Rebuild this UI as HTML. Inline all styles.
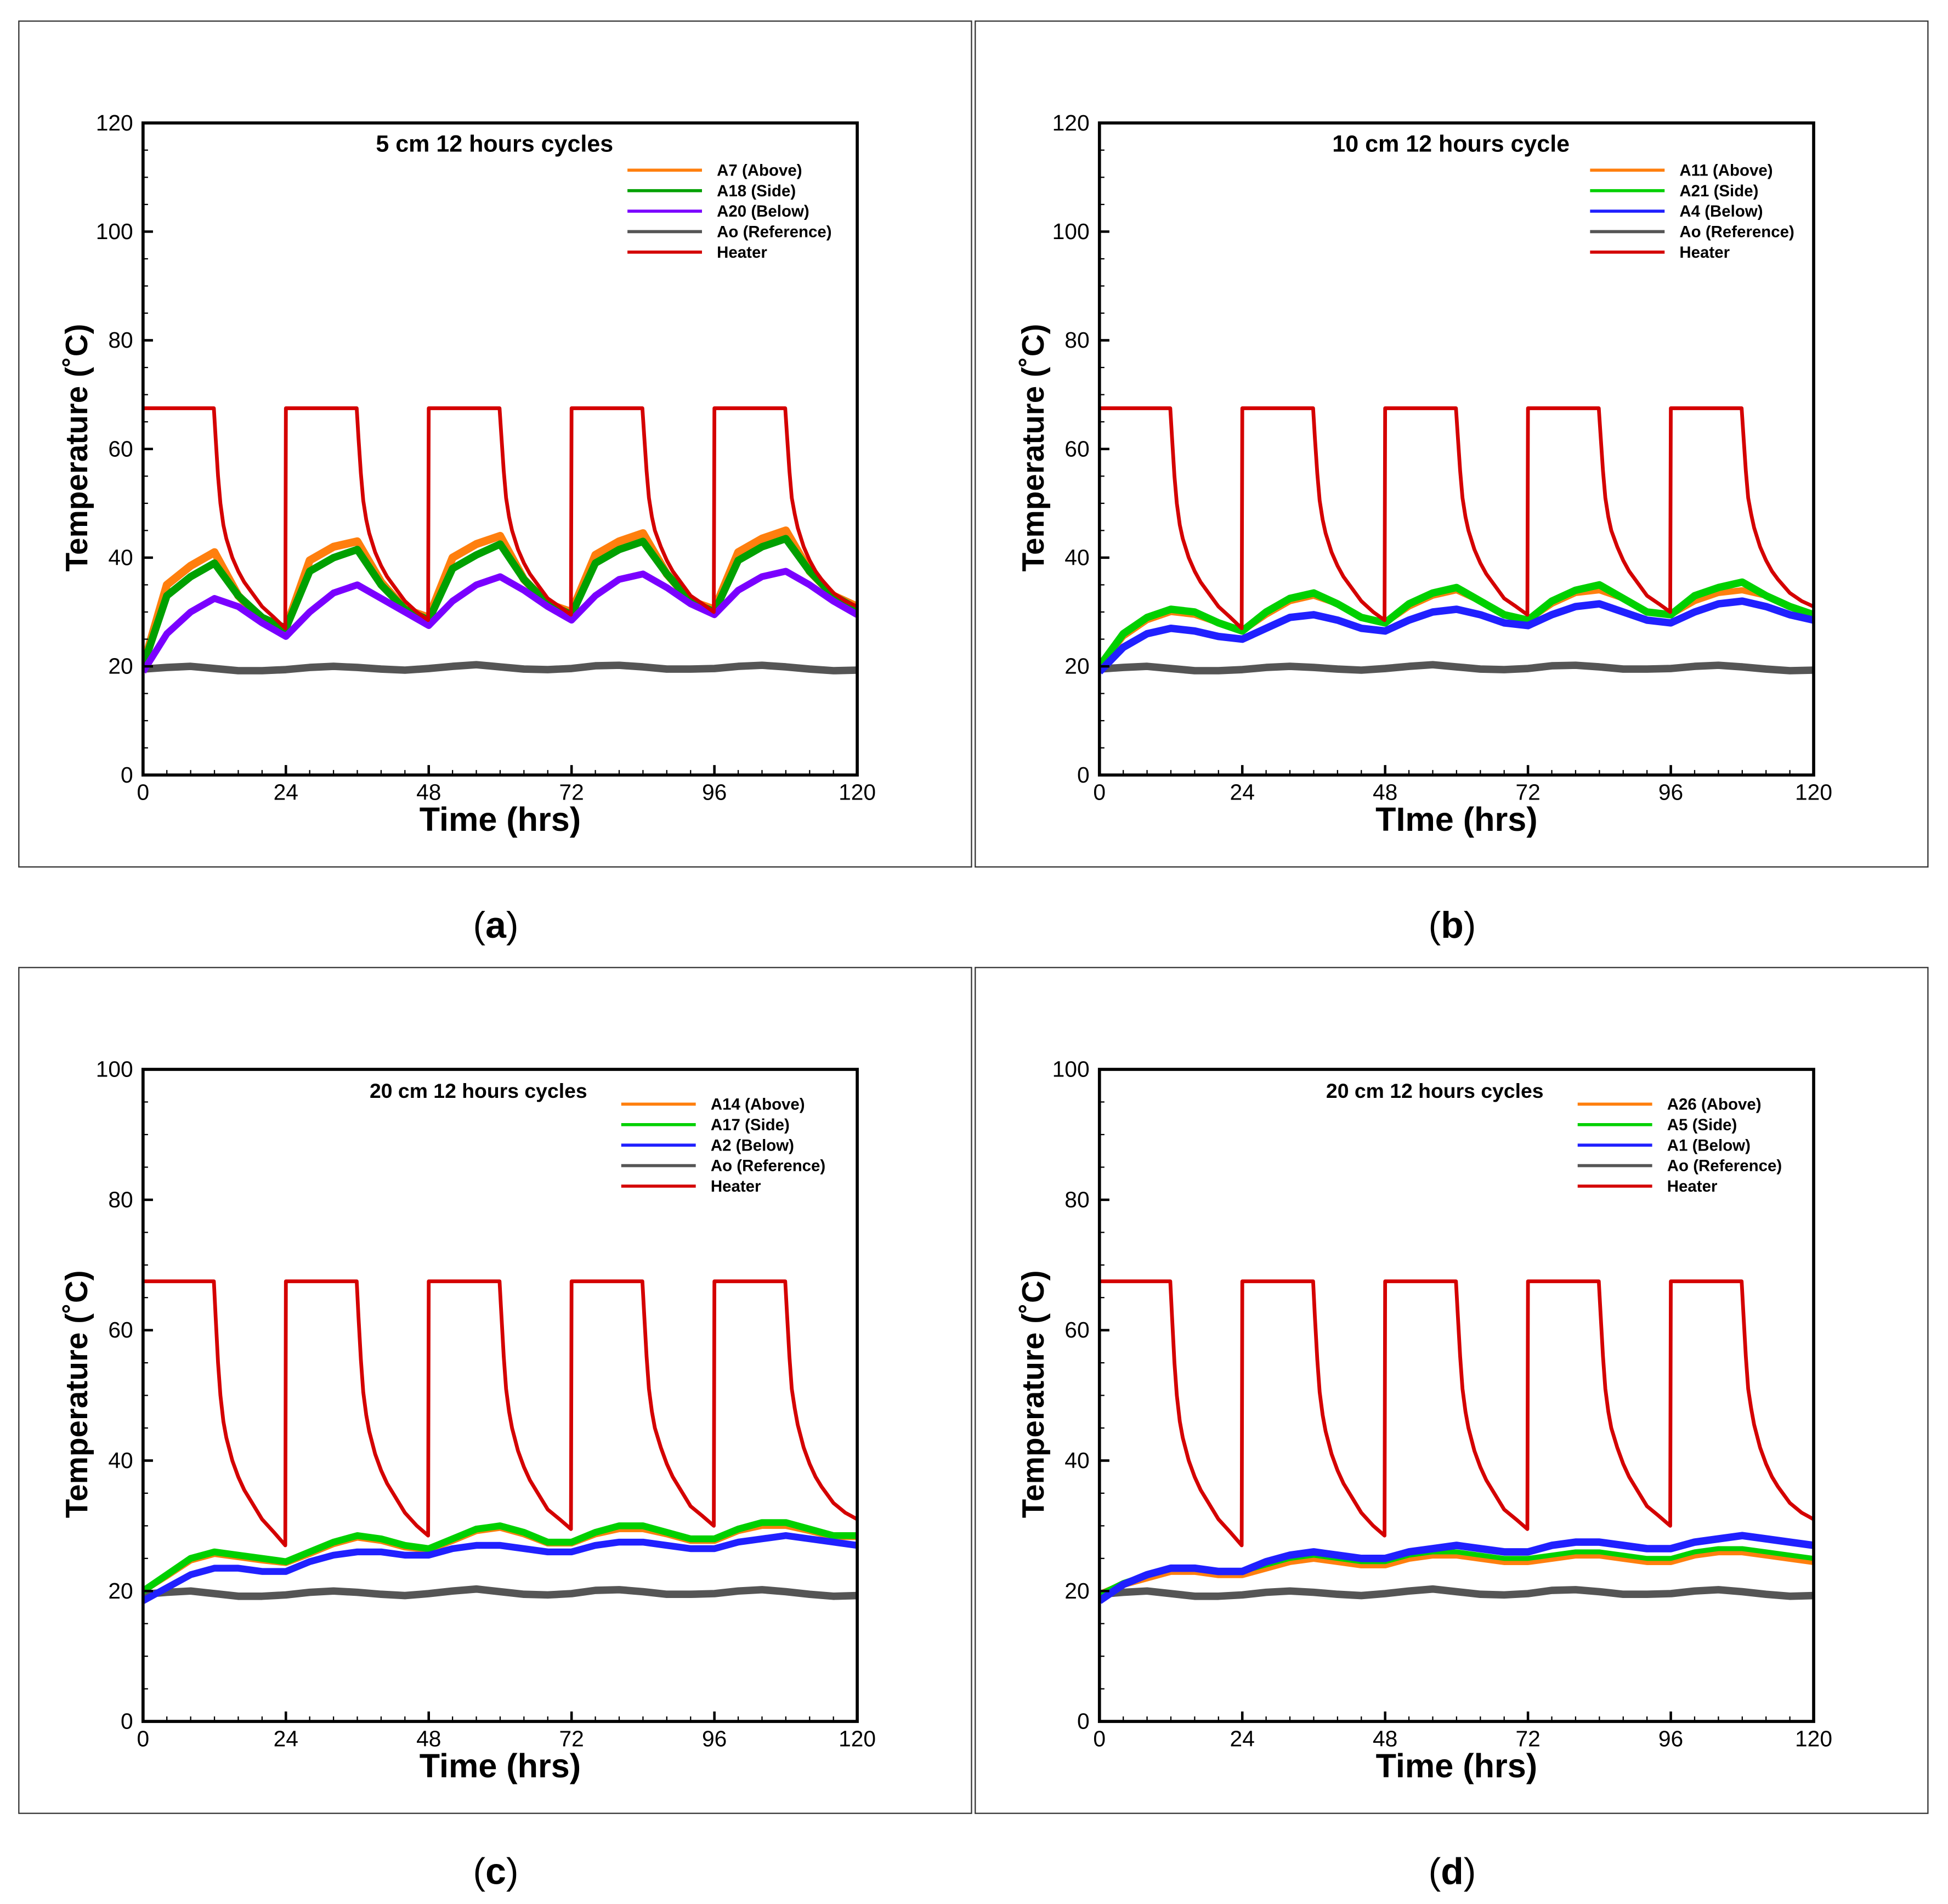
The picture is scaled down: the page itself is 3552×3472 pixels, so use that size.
<!DOCTYPE html>
<html><head><meta charset="utf-8"><style>
html,body{margin:0;padding:0;background:#fff}
svg{display:block}
text{font-family:"Liberation Sans",sans-serif}
</style></head><body>
<svg id="fig" width="3552" height="3472" viewBox="0 0 1568 1533" xmlns="http://www.w3.org/2000/svg"></svg>
<script>
const timeCats=[0,4,8,12,16,20,24,28,32,36,40,44,48,52,56,60,64,68,72,76,80,84,88,92,96,100,104,108,112,116,120];
const heaterT=[0,11.9,12.2,12.6,13,13.5,14,15,16,17,18,20,22,23.9,
24,35.9,36.2,36.6,37,37.5,38,39,40,41,42,44,46,47.9,
48,59.9,60.2,60.6,61,61.5,62,63,64,65,66,68,70,71.9,
72,83.9,84.2,84.6,85,85.5,86,87,88,89,90,92,94,95.9,
96,107.9,108.2,108.6,109,109.5,110,111,112,113,114,116,118,120];
const heaterV=[67.5,67.5,62,55,50,46,43.5,40,37.5,35.5,34,31,29,27,
67.5,67.5,62,55.5,50.5,47,44.5,41,38.5,36.5,35,32,30,28.5,
67.5,67.5,62.5,56,51,47.5,45,41.5,39,37,35.5,32.5,31,29.5,
67.5,67.5,62.5,56,51,47.5,45,42,39.5,37.5,36,33,31.5,30,
67.5,67.5,62.5,56,51,48,45.5,42,39.5,37.5,36,33.5,32,31];
const refV=[19.5,19.8,20,19.6,19.2,19.2,19.4,19.8,20,19.8,19.5,19.3,19.6,20,20.3,19.9,19.5,19.4,19.6,20.1,20.2,19.9,19.5,19.5,19.6,20,20.2,19.9,19.5,19.2,19.3];
const aAbove=[20,35,38.5,41,33,28.5,27,39.5,42,43,35.5,30.5,29,40,42.5,44,36,31.5,30,40.5,43,44.5,37,32,30.5,41,43.5,45,37.5,33,31];
const aSide=[20,33,36.5,39,33,29,27,37.5,40,41.5,35,30.5,28.5,38,40.5,42.5,36,31.5,29.5,39,41.5,43,37,32,30,39.5,42,43.5,37.5,33,30.5];
const aBelow=[19,26,30,32.5,31,28,25.5,30,33.5,35,32.5,30,27.5,32,35,36.5,34,31,28.5,33,36,37,34.5,31.5,29.5,34,36.5,37.5,35,32,29.5];
const bAbove=[20,25.5,28.5,30,29.5,28,26.5,29.5,32,33,31.5,29,28,31,33,34,32,29.5,28.5,31.5,33.5,34,32.5,30,29.5,32,33.5,34,33,31,29.5];
const bSide=[20,26,29,30.5,30,28,26.5,30,32.5,33.5,31.5,29,28,31.5,33.5,34.5,32,29.5,28.5,32,34,35,32.5,30,29.5,33,34.5,35.5,33,31,29.5];
const bBelow=[19,23.5,26,27,26.5,25.5,25,27,29,29.5,28.5,27,26.5,28.5,30,30.5,29.5,28,27.5,29.5,31,31.5,30,28.5,28,30,31.5,32,31,29.5,28.5];
const cAbove=[20,22.3,24.7,25.7,25.2,24.7,24.3,25.7,27.2,28.2,27.7,26.7,26.3,27.7,29.2,29.7,28.7,27.3,27.3,28.7,29.5,29.5,28.7,27.7,27.7,29.2,30,30,29.2,28.3,28.3];
const cSide=[20,22.5,25,26,25.5,25,24.5,26,27.5,28.5,28,27,26.5,28,29.5,30,29,27.5,27.5,29,30,30,29,28,28,29.5,30.5,30.5,29.5,28.5,28.5];
const cBelow=[18.5,20.5,22.5,23.5,23.5,23,23,24.5,25.5,26,26,25.5,25.5,26.5,27,27,26.5,26,26,27,27.5,27.5,27,26.5,26.5,27.5,28,28.5,28,27.5,27];
const dAbove=[19.5,21,22,23,23,22.5,22.5,23.5,24.5,25,24.5,24,24,25,25.5,25.5,25,24.5,24.5,25,25.5,25.5,25,24.5,24.5,25.5,26,26,25.5,25,24.5];
const dSide=[19.5,21.3,22.5,23.3,23.3,23,23,24,25,25.5,25,24.5,24.5,25.5,26,26,25.5,25,25,25.5,26,26,25.5,25,25,26,26.5,26.5,26,25.5,25];
const dBelow=[18.5,21,22.5,23.5,23.5,23,23,24.5,25.5,26,25.5,25,25,26,26.5,27,26.5,26,26,27,27.5,27.5,27,26.5,26.5,27.5,28,28.5,28,27.5,27];
const xTicks=[0,24,48,72,96,120];

const NS="http://www.w3.org/2000/svg";
const svg=document.getElementById('fig');
function mk(tag,attrs,parent){const e=document.createElementNS(NS,tag);for(const k in attrs)e.setAttribute(k,attrs[k]);(parent||svg).appendChild(e);return e;}
const COL={above:'#ff7f0e',side:'#00a000',sideB:'#00d000',belowP:'#7a00ff',below:'#2020ff',ref:'#555555',heater:'#d40000'};

const panels=[
 {id:'a',fx:15,fy:17,ymax:120,ylabels:[0,20,40,60,80,100,120],title:'5 cm 12 hours cycles',tcx:398,xt:'Time (hrs)',
  names:['A7 (Above)','A18 (Side)','A20 (Below)','Ao (Reference)','Heater'],cols:[COL.above,COL.side,COL.belowP,COL.ref,COL.heater],
  data:[aAbove,aSide,aBelow],widths:[6.5,6,5.5],lx:505},
 {id:'b',fx:785,fy:17,ymax:120,ylabels:[0,20,40,60,80,100,120],title:'10 cm 12 hours cycle',tcx:1168,xt:'TIme (hrs)',
  names:['A11 (Above)','A21 (Side)','A4 (Below)','Ao (Reference)','Heater'],cols:[COL.above,COL.sideB,COL.below,COL.ref,COL.heater],
  data:[bAbove,bSide,bBelow],widths:[5,6,6],lx:1280},
 {id:'c',fx:15,fy:779,ymax:100,ylabels:[0,20,40,60,80,100],title:'20 cm 12 hours cycles',tcx:385,xt:'Time (hrs)',
  names:['A14 (Above)','A17 (Side)','A2 (Below)','Ao (Reference)','Heater'],cols:[COL.above,COL.sideB,COL.below,COL.ref,COL.heater],
  data:[cAbove,cSide,cBelow],widths:[5,5.5,5.5],lx:500},
 {id:'d',fx:785,fy:779,ymax:100,ylabels:[0,20,40,60,80,100],title:'20 cm 12 hours cycles',tcx:1155,xt:'Time (hrs)',
  names:['A26 (Above)','A5 (Side)','A1 (Below)','Ao (Reference)','Heater'],cols:[COL.above,COL.sideB,COL.below,COL.ref,COL.heater],
  data:[dAbove,dSide,dBelow],widths:[5.5,4,6],lx:1270}
];

panels.forEach(p=>{
 const g=mk('g',{});
 
 
 const fr=mk('rect',{x:p.fx,y:p.fy,width:767,height:681,fill:'none',stroke:'#333','stroke-width':1},g);
 
 
 const L=p.fx+100,R=p.fx+675,T=p.fy+82,B=p.fy+607;
 const sx=t=>L+(t/120)*(R-L);
 const sy=v=>B-(v/p.ymax)*(B-T);
 const cp=mk('clipPath',{id:'clip'+p.id},g);
 mk('rect',{x:L,y:T,width:R-L,height:B-T},cp);
 const series=mk('g',{'clip-path':'url(#clip'+p.id+')'},g);
 
 
 function line(ts,vs,col,w,name){
   let d='';ts.forEach((t,i)=>{d+=(i?'L':'M')+sx(t).toFixed(2)+','+sy(vs[i]).toFixed(2);});
   const e=mk('path',{d:d,fill:'none',stroke:col,'stroke-width':w,'stroke-linejoin':'round'},series);
   
   
 }
 line(timeCats,refV,COL.ref,6,'series-reference');
 line(timeCats,p.data[0],p.cols[0],p.widths[0],'series-above');
 line(timeCats,p.data[1],p.cols[1],p.widths[1],'series-side');
 line(timeCats,p.data[2],p.cols[2],p.widths[2],'series-below');
 line(heaterT,heaterV,COL.heater,3,'series-heater');
 const ax=mk('rect',{x:L,y:T,width:R-L,height:B-T,fill:'none',stroke:'#000','stroke-width':2.5},g);
 
 
 for(let v=0;v<=p.ymax;v+=5){
   const major=v%20===0;
   mk('line',{x1:L,x2:L+(major?8:4),y1:sy(v),y2:sy(v),stroke:'#000','stroke-width':major?2:1},g);
 }
 p.ylabels.forEach(v=>{
   const t=mk('text',{x:L-8,y:sy(v)+6,'text-anchor':'end','font-size':18},g);
   t.textContent=v;
   
   
 });
 for(let t=0;t<=120;t+=4){
   const major=t%24===0;
   mk('line',{x1:sx(t),x2:sx(t),y1:B,y2:B-(major?8:4),stroke:'#000','stroke-width':major?2:1},g);
 }
 xTicks.forEach(v=>{
   const t=mk('text',{x:sx(v),y:B+20,'text-anchor':'middle','font-size':18},g);
   t.textContent=v;
   
   
 });
 const xt=mk('text',{x:(L+R)/2,y:B+45,'text-anchor':'middle','font-size':27,'font-weight':'bold'},g);
 xt.textContent=p.xt;
 
 
 const ycx=p.fx+55,ycy=(T+B)/2-1;
 const yt=mk('text',{x:ycx,y:ycy,'text-anchor':'middle','font-size':25,'font-weight':'bold',transform:'rotate(-90 '+ycx+' '+ycy+')'},g);
 yt.textContent='Temperature (˚C)';
 
 
 const tt=mk('text',{x:p.tcx,y:T+23,'text-anchor':'middle','font-size':p.ymax===120?19:16.5,'font-weight':'bold'},g);
 tt.textContent=p.title;
 
 
 const lg=mk('g',{},g);
 
 
 p.names.forEach((n,i)=>{
   const y=T+(p.ymax===120?38:28)+i*16.5;
   mk('line',{x1:p.lx,x2:p.lx+60,y1:y,y2:y,stroke:p.cols[i],'stroke-width':2.5},lg);
   const t=mk('text',{x:p.lx+72,y:y+4.5,'font-size':13,'font-weight':'bold'},lg);
   t.textContent=n;
   
   
 });
 const cap=mk('text',{x:p.fx+384,y:p.fy+738,'text-anchor':'middle','font-size':30,'font-family':'Liberation Serif, serif'},g);
 cap.innerHTML='(<tspan font-weight="bold">'+p.id+'</tspan>)';
 
 
});
</script>
</body></html>
